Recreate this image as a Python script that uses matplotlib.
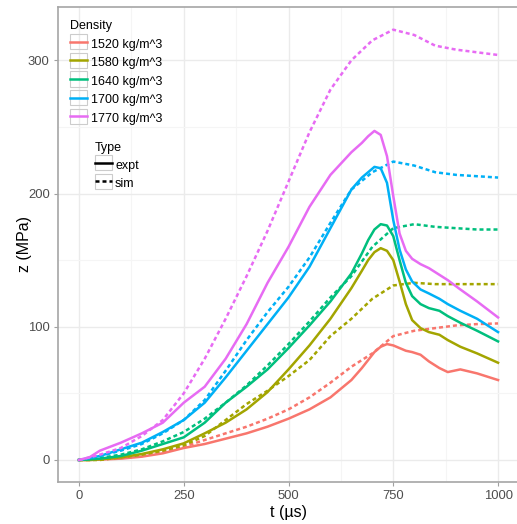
import numpy as np
import matplotlib.pyplot as plt
from matplotlib.patches import Rectangle
from matplotlib.lines import Line2D
from matplotlib.legend_handler import HandlerLine2D

plt.rcParams['font.family'] = ['Liberation Sans', 'DejaVu Sans']

densities = ['1520 kg/m^3', '1580 kg/m^3', '1640 kg/m^3', '1700 kg/m^3', '1770 kg/m^3']
colors = ['#F8766D', '#A3A500', '#00BF7D', '#00B0F6', '#E76BF3']

# measured traces
t_expt = [0, 25, 50, 100, 150, 200, 250, 300, 350, 400, 450, 500, 550, 600, 650,
          675, 690, 705, 720, 735, 750, 765, 780, 795, 815, 835, 860, 880, 910, 950, 1000]
z_1520_expt = [0, 0, 0.3, 1, 2.5, 5, 9, 12, 16, 20, 25, 31, 38, 47, 60,
               69, 75, 81, 85, 87, 86, 84, 82, 81, 79, 74, 69, 66, 68, 65, 60]
z_1580_expt = [0, 0, 0.5, 2, 4.5, 8, 12.5, 20, 28, 38, 51, 68, 86, 106, 129,
               142, 150, 156, 159, 157, 150, 134, 117, 105, 99, 96, 94, 90, 85, 80, 73]
z_1640_expt = [0, 0.5, 1, 3, 7, 12, 17, 28, 43, 55, 68, 84, 101, 119, 140,
               155, 165, 173, 177, 176, 168, 150, 133, 123, 117, 114, 112, 108, 103, 97, 89]
z_1700_expt = [0, 1.5, 3, 8, 13, 21, 30, 43, 62, 82, 102, 122, 145, 174, 203,
               212, 216, 220, 219, 208, 180, 158, 143, 134, 128, 125, 121, 117, 112, 106, 96]
z_1770_expt = [0, 2, 7, 13, 20, 28, 43, 55, 76, 102, 133, 160, 190, 214, 231,
               238, 243, 247, 244, 228, 198, 170, 157, 151, 147, 144, 139, 135, 128, 119, 107]

# simulated traces
t_sim = [0, 50, 100, 150, 200, 250, 300, 350, 400, 450, 500,
         550, 600, 650, 700, 750, 800, 850, 900, 950, 1000]
z_1520_sim = [0, 0.5, 1.5, 3, 6, 10, 15, 20, 25, 31, 38,
              47, 58, 70, 80, 93, 97, 99, 101, 102, 102.5]
z_1580_sim = [0, 0, 2, 4, 7, 11, 18, 30, 42, 52, 63,
              75, 93, 106, 121, 131, 133, 132, 132, 132, 132]
z_1640_sim = [0, 1.5, 4, 8, 14, 21, 31, 43, 56, 71, 87,
              104, 122, 138, 160, 174, 177, 175, 174, 173, 173]
z_1700_sim = [0, 3, 7, 12, 20, 30, 45, 67, 90, 111, 130,
              152, 178, 203, 216, 224, 221, 216, 214, 213, 212]
z_1770_sim = [0, 4, 9, 18, 30, 50, 76, 106, 138, 172, 209,
              246, 278, 300, 315, 323, 319, 311, 308, 306, 304]

expt = [z_1520_expt, z_1580_expt, z_1640_expt, z_1700_expt, z_1770_expt]
sim = [z_1520_sim, z_1580_sim, z_1640_sim, z_1700_sim, z_1770_sim]

LW = 1.8
DASH = (1.6, 1.2)


class BoxedLine(HandlerLine2D):
    # legend key with a light grey frame, like ggplot keys
    def create_artists(self, legend, orig_handle, xdescent, ydescent,
                       width, height, fontsize, trans):
        arts = super().create_artists(legend, orig_handle, xdescent, ydescent,
                                      width, height, fontsize, trans)
        box = Rectangle((-xdescent, -ydescent / 2), width, height, fc='none',
                        ec='#CCCCCC', lw=0.8, transform=trans)
        return [box] + list(arts)


fig = plt.figure(figsize=(5.17, 5.24), dpi=100)
ax = fig.add_axes([0.1122, 0.0802, 0.8917, 0.9064])

for i in range(len(densities)):
    ax.plot(t_expt, expt[i], color=colors[i], lw=LW, solid_joinstyle='round')
    ax.plot(t_sim, sim[i], color=colors[i], lw=LW, dashes=DASH, dash_capstyle='butt')

ax.set_xlim(-50, 1050)
ax.set_ylim(-16.5, 340)
ax.set_xticks([0, 250, 500, 750, 1000])
ax.set_xticks([125, 375, 625, 875], minor=True)
ax.set_yticks([0, 100, 200, 300])
ax.set_yticks([50, 150, 250], minor=True)
ax.grid(which='major', color='#EBEBEB', lw=1.0)
ax.grid(which='minor', color='#F5F5F5', lw=0.8)
ax.set_axisbelow(True)
ax.tick_params(which='major', length=3, width=0.8, color='#A0A0A0',
               labelsize=9.4, labelcolor='#4D4D4D', pad=3)
ax.tick_params(which='minor', length=0)
for s in ax.spines.values():
    s.set_color('#A6A6A6')
    s.set_linewidth(1.2)
ax.spines['right'].set_visible(False)

ax.set_xlabel('t (µs)', fontsize=11.5, labelpad=2)
ax.set_ylabel('z (MPa)', fontsize=11.5, labelpad=-3)

legend_style = dict(loc='upper left', bbox_transform=fig.transFigure,
                    frameon=False, fontsize=9, title_fontsize=9, borderpad=0,
                    borderaxespad=0, labelspacing=0.28, handlelength=1.36,
                    handleheight=1.48, alignment='left',
                    handler_map={Line2D: BoxedLine()})

dens_handles = [Line2D([], [], color=c, lw=LW) for c in colors]
leg1 = ax.legend(dens_handles, densities, title='Density',
                 bbox_to_anchor=(70 / 517, 1 - 20.5 / 524),
                 handletextpad=0.32, **legend_style)
ax.add_artist(leg1)

type_handles = [Line2D([], [], color='black', lw=LW),
                Line2D([], [], color='black', lw=LW, dashes=DASH)]
leg2 = ax.legend(type_handles, ['expt', 'sim'], title='Type',
                 bbox_to_anchor=(95 / 517, 1 - 141.5 / 524),
                 handletextpad=0.25, **legend_style)

fig.savefig('out.png', dpi=100)
